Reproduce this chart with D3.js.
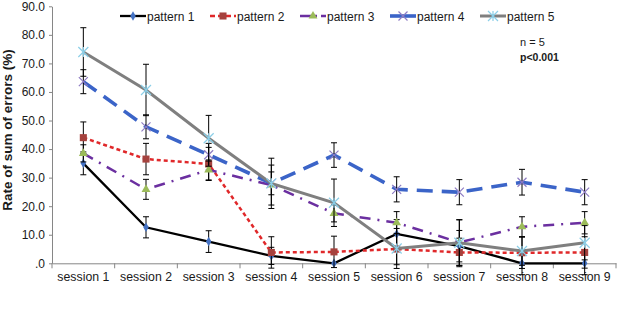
<!DOCTYPE html>
<html>
<head>
<meta charset="utf-8">
<script src="https://cdn.jsdelivr.net/npm/d3@7"></script>
<style>
  body { margin: 0; background: #fff; }
  text { font-family: "Liberation Sans", Arial, sans-serif; fill: #1a1a1a; }
</style>
</head>
<body>
<div id="chart"></div>
<script>
var width = 618, height = 323;

var sessions = ["session 1", "session 2", "session 3", "session 4", "session 5",
                "session 6", "session 7", "session 8", "session 9"];
var yTicks = [0, 10, 20, 30, 40, 50, 60, 70, 80, 90];
var seriesNames = ["pattern 1", "pattern 2", "pattern 3", "pattern 4", "pattern 5"];

var pattern1    = [35.0, 12.6, 7.6, 2.6, 0.0, 10.3, 6.0, 0.0, 0.0];
var pattern1Err = [4.0, 3.7, 3.8, 3.0, 0.0, 5.0, 5.5, 4.0, 4.0];
var pattern2    = [44.0, 36.5, 34.8, 3.8, 4.0, 5.0, 3.8, 3.7, 3.8];
var pattern2Err = [5.5, 5.5, 5.8, 5.5, 5.5, 5.5, 5.0, 5.5, 5.5];
var pattern3    = [38.5, 25.9, 32.7, 27.4, 17.5, 14.2, 7.3, 12.8, 14.2];
var pattern3Err = [3.0, 3.5, 3.5, 7.0, 3.0, 3.9, 8.0, 3.5, 3.9];
var pattern4    = [63.6, 47.8, 38.0, 28.0, 37.9, 25.9, 24.9, 28.4, 24.9];
var pattern4Err = [4.2, 4.2, 4.0, 8.8, 4.3, 4.4, 4.4, 4.5, 4.4];
var pattern5    = [74.0, 60.7, 43.8, 28.0, 21.2, 5.2, 7.2, 4.3, 7.2];
var pattern5Err = [8.5, 9.0, 8.0, 4.0, 8.3, 7.0, 8.0, 5.0, 6.0];

var values = [pattern1, pattern2, pattern3, pattern4, pattern5];
var errors = [pattern1Err, pattern2Err, pattern3Err, pattern4Err, pattern5Err];

// line + marker look of each series (legDash = dash used in the legend sample)
var styles = [
  { stroke: "#000000", width: 2.3, dash: null,       legDash: null,    marker: "diamond",  fill: "#4472c4" },
  { stroke: "#e0282a", width: 2.5, dash: "4,3",      legDash: "5,3",   marker: "square",   fill: "#a5423e" },
  { stroke: "#6b2fa0", width: 2.5, dash: "11,7,2,7", legDash: "11,4,2,4", marker: "triangle", fill: "#9bbb59" },
  { stroke: "#3b64c8", width: 3.6, dash: "16,9",     legDash: null,    marker: "x",        fill: "#8e7cc3" },
  { stroke: "#7f7f7f", width: 3.0, dash: null,       legDash: null,    marker: "star",     fill: "#8ccfe8" }
];

var x = d3.scaleBand()
    .domain(sessions)
    .range([52, 616]);

var y = d3.scaleLinear()
    .domain([0, 90])
    .range([263.3, 6.3]);

var svg = d3.select("#chart")
    .append("svg")
    .attr("width", width)
    .attr("height", height);

// y axis
var yAxis = d3.axisLeft(y)
    .tickValues(yTicks)
    .tickSizeInner(3)
    .tickSizeOuter(0)
    .tickPadding(4)
    .tickFormat(function(d) { return d === 0 ? ".0" : d3.format(".1f")(d); });

var axisY = svg.append("g")
    .attr("class", "y axis")
    .attr("transform", "translate(52,0)")
    .call(yAxis);
axisY.selectAll("text").style("font-size", "12px").style("fill", "#1a1a1a");
axisY.selectAll("line, path").style("stroke", "#868686");

// x axis: labels centred, ticks on category boundaries
var xAxis = d3.axisBottom(x).tickSize(0).tickPadding(9);
var axisX = svg.append("g")
    .attr("class", "x axis")
    .attr("transform", "translate(0," + y(0) + ")")
    .call(xAxis);
axisX.select(".domain").style("stroke", "#868686");
axisX.selectAll("text").style("font-size", "12.3px").style("fill", "#1a1a1a");

var bounds = sessions.map(function(d) { return x(d); }).concat([x.range()[1]]);
axisX.selectAll(".bound")
    .data(bounds)
    .enter().append("line")
    .attr("class", "bound")
    .attr("x1", function(d) { return d; })
    .attr("x2", function(d) { return d; })
    .attr("y1", 0)
    .attr("y2", 5)
    .style("stroke", "#868686");

svg.append("text")
    .attr("transform", "translate(12," + 130 + ") rotate(-90)")
    .attr("text-anchor", "middle")
    .style("font-size", "13.5px")
    .style("font-weight", "bold")
    .text("Rate of sum of errors (%)");

function cx(i) { return x(sessions[i]) + x.bandwidth() / 2; }

function drawMarker(g, kind, fill, px, py) {
  if (kind === "x" || kind === "star") {
    var r = kind === "star" ? 5 : 4.5;
    var p = "M" + (px - r) + "," + (py - r) + "L" + (px + r) + "," + (py + r) +
            "M" + (px - r) + "," + (py + r) + "L" + (px + r) + "," + (py - r);
    if (kind === "star") { p += "M" + px + "," + (py - r) + "L" + px + "," + (py + r); }
    g.append("path").attr("d", p).style("stroke", fill).style("stroke-width", 1.2).style("fill", "none");
  } else {
    var sym = { diamond: d3.symbolDiamond, square: d3.symbolSquare, triangle: d3.symbolTriangle }[kind];
    var size = { diamond: 26, square: 50, triangle: 34 }[kind];
    g.append("path")
      .attr("d", d3.symbol().type(sym).size(size)())
      .attr("transform", "translate(" + px + "," + py + ")")
      .style("fill", fill);
  }
}

var line = d3.line()
    .x(function(d, i) { return cx(i); })
    .y(function(d) { return y(d); });

values.forEach(function(vals, s) {
  var st = styles[s];
  var g = svg.append("g").attr("class", "series-" + (s + 1));

  g.append("path")
    .attr("d", line(vals))
    .style("fill", "none")
    .style("stroke", st.stroke)
    .style("stroke-width", st.width)
    .style("stroke-dasharray", st.dash);

  vals.forEach(function(v, i) {
    var e = errors[s][i];
    if (e > 0) {
      var px = cx(i);
      g.append("line")
        .attr("x1", px).attr("x2", px)
        .attr("y1", y(v + e)).attr("y2", y(v - e))
        .style("stroke", "#000").style("stroke-width", 1);
      [v + e, v - e].forEach(function(t) {
        g.append("line")
          .attr("x1", px - 3).attr("x2", px + 3)
          .attr("y1", y(t)).attr("y2", y(t))
          .style("stroke", "#000").style("stroke-width", 1);
      });
    }
  });

  vals.forEach(function(v, i) { drawMarker(g, st.marker, st.fill, cx(i), y(v)); });
});

// legend
var legendX = [120, 210, 300, 390, 480];
var legend = svg.append("g").attr("class", "legend");
seriesNames.forEach(function(name, s) {
  var st = styles[s], lx = legendX[s], ly = 16;
  legend.append("line")
    .attr("x1", lx).attr("x2", lx + 26)
    .attr("y1", ly).attr("y2", ly)
    .style("stroke", st.stroke)
    .style("stroke-width", st.width)
    .style("stroke-dasharray", st.legDash);
  drawMarker(legend, st.marker, st.fill, lx + 13, ly);
  legend.append("text")
    .attr("x", lx + 27)
    .attr("y", ly + 4.5)
    .style("font-size", "12px")
    .text(name);
});

svg.append("text")
    .attr("x", 520).attr("y", 46)
    .style("font-size", "11px")
    .text("n = 5");

svg.append("text")
    .attr("x", 520).attr("y", 61)
    .style("font-size", "10.5px")
    .style("font-weight", "bold")
    .text("p<0.001");
</script>
</body>
</html>
